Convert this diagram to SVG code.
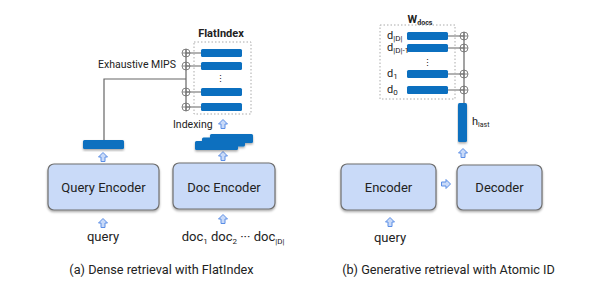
<svg xmlns="http://www.w3.org/2000/svg" xmlns:xlink="http://www.w3.org/1999/xlink" width="598" height="281" viewBox="0 0 598 281">
<style>
text{font-family:Roboto,"Liberation Sans",sans-serif;fill:#222}
.box{fill:#c9daf8;stroke:#6f6f6f;stroke-width:1.2}
.lbl{font-size:13px;text-anchor:middle}
.bar{fill:#0b6fbf}
.dot{fill:none;stroke:#aaa;stroke-width:1;stroke-dasharray:1.5 2}
.ln{stroke:#666;stroke-width:1.2;fill:none}
.ring{fill:none;stroke:#777;stroke-width:0.9}
.arr{fill:#c9daf8;stroke:#5b8ee6;stroke-width:1}
.sm{font-size:11px}
.cap{font-size:12.7px;text-anchor:middle}
</style>
<defs>
<filter id="sh" x="-10%" y="-10%" width="130%" height="140%">
<feDropShadow dx="0" dy="1.5" stdDeviation="1.2" flood-color="#000" flood-opacity="0.35"/>
</filter>
<path id="up" class="arr" d="M0,-4.5 L4.5,0 L2,0 L2,4.5 L-2,4.5 L-2,0 L-4.5,0 Z"/>
<path id="right" class="arr" d="M4.5,0 L0,4.5 L0,2 L-4.5,2 L-4.5,-2 L0,-2 L0,-4.5 Z"/>
<g id="xr"><circle class="ring" r="4"/><path class="ring" d="M-4,0 H4 M0,-4 V4"/></g>
</defs>

<g id="connectors">
<path class="ln" d="M104,140 V79 H186"/>
<path class="ln" d="M186,49 V111"/>
<path class="ln" d="M186,53 H201 M186,66 H201 M186,92 H201 M186,107 H201"/>
<path class="ln" d="M464,32 V103"/>
<path class="ln" d="M448,36 H464 M448,48 H464 M448,74 H464 M448,90 H464"/>
<use href="#up" x="103" y="157"/>
<use href="#up" x="103" y="223"/>
<use href="#up" x="223" y="156"/>
<use href="#up" x="223" y="219"/>
<use href="#up" x="223" y="124"/>
<use href="#up" x="463" y="153"/>
<use href="#up" x="390" y="222"/>
<use href="#right" x="446" y="184"/>
</g>

<g id="query-encoder">
<rect class="box" x="48" y="164" width="111" height="46" rx="6" filter="url(#sh)"/>
<text class="lbl" x="103.5" y="192">Query Encoder</text>
</g>
<text id="query-a" class="lbl" x="103" y="241">query</text>

<g id="doc-encoder">
<rect class="box" x="173" y="163" width="102" height="46" rx="6" filter="url(#sh)"/>
<text class="lbl" x="224" y="192">Doc Encoder</text>
</g>
<text id="docs" class="lbl" x="233" y="241">doc<tspan font-size="8" dy="3">1</tspan><tspan dy="-3"> doc</tspan><tspan font-size="8" dy="3">2</tspan><tspan dy="-3"> ··· doc</tspan><tspan font-size="8" dy="3">|D|</tspan></text>

<g id="query-vec">
<rect class="bar" x="83" y="140" width="41" height="9" rx="1.5" filter="url(#sh)"/>
</g>

<g id="doc-vecs" filter="url(#sh)">
<rect class="bar" x="210" y="134" width="43" height="9" rx="1.5"/>
<rect class="bar" x="202" y="137.5" width="43" height="9" rx="1.5"/>
<rect class="bar" x="195" y="141" width="43" height="9" rx="1.5"/>
</g>
<text id="indexing" x="173" y="128" font-size="10.5">Indexing</text>

<g id="flatindex">
<text x="221" y="37" font-size="11" font-weight="bold" text-anchor="middle">FlatIndex</text>
<rect class="dot" x="194" y="42" width="57" height="72"/>
<rect class="bar" x="201" y="49" width="41" height="8" rx="1.5"/>
<rect class="bar" x="201" y="62" width="41" height="8" rx="1.5"/>
<rect class="bar" x="201" y="88" width="41" height="8" rx="1.5"/>
<rect class="bar" x="201" y="103" width="41" height="8" rx="1.5"/>
<text x="220" y="82" font-size="9" text-anchor="middle">⋮</text>
<use href="#xr" x="186" y="53"/>
<use href="#xr" x="186" y="66"/>
<use href="#xr" x="186" y="92"/>
<use href="#xr" x="186" y="107"/>
</g>
<text id="mips" x="98" y="68" font-size="10.5">Exhaustive MIPS</text>

<g id="encoder">
<rect class="box" x="341" y="164" width="95" height="46" rx="6" filter="url(#sh)"/>
<text class="lbl" x="388.5" y="192">Encoder</text>
</g>
<text id="query-b" class="lbl" x="390" y="242">query</text>

<g id="decoder">
<rect class="box" x="457" y="165" width="85" height="45" rx="6" filter="url(#sh)"/>
<text class="lbl" x="499.5" y="192">Decoder</text>
</g>

<g id="wdocs">
<text x="420" y="23" font-size="11" font-weight="bold" text-anchor="middle">W<tspan font-size="7" dy="2">docs</tspan></text>
<rect class="dot" x="380" y="25" width="75" height="74"/>
<rect class="bar" x="407" y="32" width="41" height="8" rx="1.5"/>
<rect class="bar" x="407" y="44" width="41" height="8" rx="1.5"/>
<rect class="bar" x="407" y="70" width="41" height="8" rx="1.5"/>
<rect class="bar" x="407" y="86" width="41" height="8" rx="1.5"/>
<text x="427" y="66" font-size="9" text-anchor="middle">⋮</text>
<text class="sm" x="387" y="39">d<tspan font-size="8" dy="2">|D|</tspan></text>
<text class="sm" x="387" y="51">d<tspan font-size="8" dy="2">|D|-1</tspan></text>
<text class="sm" x="387" y="77">d<tspan font-size="8" dy="2">1</tspan></text>
<text class="sm" x="387" y="93">d<tspan font-size="8" dy="2">0</tspan></text>
<use href="#xr" x="464" y="36"/>
<use href="#xr" x="464" y="48"/>
<use href="#xr" x="464" y="74"/>
<use href="#xr" x="464" y="90"/>
</g>

<g id="hlast">
<rect class="bar" x="458" y="103" width="9" height="39" rx="1.5" filter="url(#sh)"/>
<text class="sm" x="472" y="125">h<tspan font-size="7" dy="2">last</tspan></text>
</g>

<text class="cap" x="161.5" y="274">(a) Dense retrieval with FlatIndex</text>
<text class="cap" x="448.5" y="274">(b) Generative retrieval with Atomic ID</text>
</svg>
